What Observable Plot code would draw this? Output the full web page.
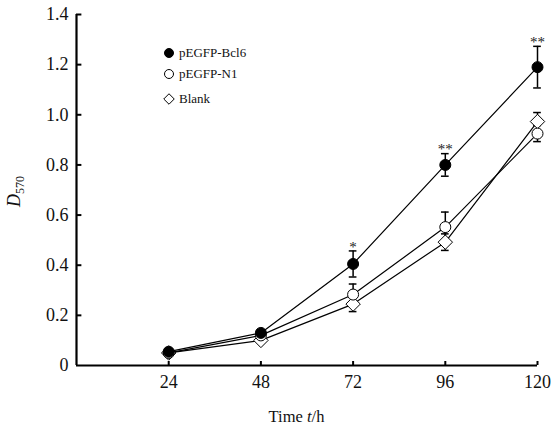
<!DOCTYPE html>
<html>
<head>
<meta charset="utf-8">
<script src="https://cdn.jsdelivr.net/npm/d3@7"></script>
<script src="https://cdn.jsdelivr.net/npm/@observablehq/plot@0.6"></script>
<style>
  html, body { margin: 0; padding: 0; background: #fff; }
  #wrap { position: relative; width: 551px; height: 425px; font-family: "Liberation Serif", "Times New Roman", serif; }
  #legend { position: absolute; left: 163px; top: 42px; font-size: 13px; color: #111; }
  #legend div { display: flex; align-items: center; height: 21px; }
  #legend div.gap { margin-top: 4px; }
  #legend svg { margin-right: 4px; }
</style>
</head>
<body>
<div id="wrap"><div id="legend"></div></div>
<script>
const times = [24, 48, 72, 96, 120];
const seriesNames = ["pEGFP-Bcl6", "pEGFP-N1", "Blank"];
const bcl6Mean = [0.055, 0.13, 0.405, 0.80, 1.19];
const bcl6Err  = [0.010, 0.012, 0.052, 0.045, 0.083];
const n1Mean   = [0.050, 0.12, 0.283, 0.552, 0.925];
const n1Err    = [0.008, 0.010, 0.042, 0.060, 0.032];
const blankMean = [0.050, 0.100, 0.245, 0.492, 0.973];
const blankErr  = [0.008, 0.010, 0.030, 0.033, 0.036];
const sigTimes  = [72, 96, 120];
const sigLabels = ["*", "**", "**"];
const yTicks = [0, 0.2, 0.4, 0.6, 0.8, 1.0, 1.2, 1.4];
const xTicks = [24, 48, 72, 96, 120];

const means = [bcl6Mean, n1Mean, blankMean];
const errs = [bcl6Err, n1Err, blankErr];
const data = [];
seriesNames.forEach((s, i) => times.forEach((t, j) => data.push({series: s, x: t, y: means[i][j], e: errs[i][j]})));
const sig = sigTimes.map((t, i) => {
  const j = times.indexOf(t);
  return {x: t, y: bcl6Mean[j] + bcl6Err[j], label: sigLabels[i]};
});
const bySeries = s => data.filter(d => d.series === s);
const drawOrder = ["Blank", "pEGFP-N1", "pEGFP-Bcl6"];

const style = {
  "pEGFP-Bcl6": {symbol: "circle", fill: "black", r: 5.5},
  "pEGFP-N1": {symbol: "circle", fill: "white", r: 5.5},
  "Blank": {symbol: "diamond2", fill: "white", r: 6.5}
};

const marks = [];
drawOrder.forEach(s => {
  marks.push(Plot.line(bySeries(s), {x: "x", y: "y", stroke: "black", strokeWidth: 1.2}));
});
drawOrder.forEach(s => {
  const d = bySeries(s).filter(p => p.x >= 72);
  marks.push(Plot.ruleX(d, {x: "x", y1: p => p.y - p.e, y2: p => p.y + p.e, stroke: "black", strokeWidth: 1.5}));
  marks.push(Plot.ruleY(d, {y: p => p.y + p.e, x1: p => p.x - 1, x2: p => p.x + 1, stroke: "black", strokeWidth: 1.5}));
  marks.push(Plot.ruleY(d, {y: p => p.y - p.e, x1: p => p.x - 1, x2: p => p.x + 1, stroke: "black", strokeWidth: 1.5}));
});
drawOrder.forEach(s => {
  const st = style[s];
  marks.push(Plot.dot(bySeries(s), {x: "x", y: "y", symbol: () => st.symbol, r: st.r, fill: st.fill, stroke: "black", strokeWidth: 1}));
});

const chart = Plot.plot({
  width: 551,
  height: 425,
  marginLeft: 76,
  marginRight: 14,
  marginTop: 14,
  marginBottom: 60,
  style: {fontFamily: "Liberation Serif, Times New Roman, serif", background: "white", color: "#111"},
  symbol: {type: "identity"},
  x: {domain: [0, 120]},
  y: {domain: [0, 1.4]},
  marks: [
    Plot.axisY(yTicks, {tickSize: 0, tickPadding: 8, fontSize: 18, tickFormat: d => d === 0 ? "0" : d.toFixed(1), label: null}),
    Plot.axisX(xTicks, {tickSize: 0, tickPadding: 10, fontSize: 18, label: null}),
    Plot.ruleY(yTicks.slice(1), {x1: 0, x2: 1.4, stroke: "black", strokeWidth: 2}),
    Plot.ruleX(xTicks, {y1: 0, y2: 0.016, stroke: "black", strokeWidth: 2}),
    ...marks,
    Plot.text(sig, {x: "x", y: "y", text: "label", dy: -4, fontSize: 15, fill: "#222"}),
    Plot.ruleX([0], {stroke: "black", strokeWidth: 2.2}),
    Plot.ruleY([0], {stroke: "black", strokeWidth: 2.2})
  ]
});
document.getElementById("wrap").prepend(chart);

// axis titles
const svg = d3.select(chart);
const xs = chart.scale("x"), ys = chart.scale("y");
const xMid = (xs.range[0] + xs.range[1]) / 2;
const xl = svg.append("text").attr("x", xMid - 10).attr("y", 422).attr("text-anchor", "middle")
  .attr("font-size", 16.5).attr("fill", "#111");
xl.append("tspan").text("Time ");
xl.append("tspan").attr("font-style", "italic").text("t");
xl.append("tspan").text("/h");
const yl = svg.append("text").attr("transform", `translate(20,${(ys.range[0] + ys.range[1]) / 2 + 2}) rotate(-90)`)
  .attr("text-anchor", "middle").attr("font-size", 18).attr("fill", "#111");
yl.append("tspan").attr("font-style", "italic").text("D");
yl.append("tspan").attr("font-size", 12).attr("dy", 4).text("570");

// legend
const leg = d3.select("#legend");
seriesNames.forEach((s, i) => {
  const st = style[s];
  const row = leg.append("div").classed("gap", i === 2);
  const sv = row.append("svg").attr("width", 12).attr("height", 12);
  const sym = st.symbol === "circle" ? d3.symbolCircle : d3.symbolDiamond2;
  const size = st.symbol === "circle" ? Math.PI * 4.5 * 4.5 : 70;
  sv.append("path").attr("transform", "translate(6,6)").attr("d", d3.symbol(sym, size)())
    .attr("fill", st.fill).attr("stroke", "black").attr("stroke-width", 1);
  row.append("span").text(s);
});
</script>
</body>
</html>
